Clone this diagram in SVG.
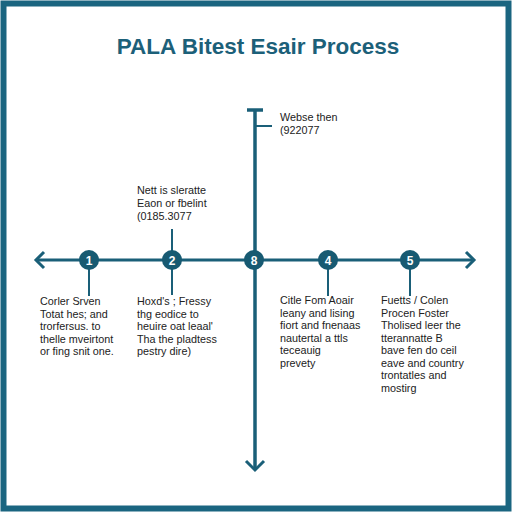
<svg xmlns="http://www.w3.org/2000/svg" width="512" height="512" viewBox="0 0 512 512">
<style>
.ln{stroke:#1a5f78;fill:none;stroke-linecap:butt}
.node circle{fill:#175a72}
.num{font-family:"Liberation Sans",Arial,sans-serif;font-size:12px;font-weight:bold;fill:#fff;text-anchor:middle}
.t{font-family:"Liberation Sans",Arial,sans-serif;font-size:10.8px;fill:#222}
.title{font-family:"Liberation Sans",Arial,sans-serif;font-size:22.5px;font-weight:bold;fill:#1c6079;text-anchor:middle}
</style>
<rect x="0" y="0" width="512" height="512" fill="#fff"/>
<rect x="3.5" y="3.5" width="505" height="505" fill="none" stroke="#1a6580" stroke-width="6"/>
<text class="title" x="258" y="54">PALA Bitest Esair Process</text>
<g id="connectors">
<line class="ln" x1="36" y1="260" x2="474" y2="260" stroke-width="3"/>
<polyline class="ln" points="44,252 36,260 44,268" stroke-width="3"/>
<polyline class="ln" points="466,252 474,260 466,268" stroke-width="3"/>
<line class="ln" x1="255" y1="109" x2="255" y2="470" stroke-width="3.5"/>
<line class="ln" x1="247" y1="110" x2="263" y2="110" stroke-width="3.5"/>
<line class="ln" x1="255" y1="126" x2="272" y2="126" stroke-width="2"/>
<polyline class="ln" points="246,461 255,470 264,461" stroke-width="3"/>
<line class="ln" x1="172" y1="229" x2="172" y2="295" stroke-width="2"/>
<line class="ln" x1="89" y1="260" x2="89" y2="296" stroke-width="2"/>
<line class="ln" x1="328" y1="260" x2="328" y2="296" stroke-width="2"/>
<line class="ln" x1="410" y1="260" x2="410" y2="296" stroke-width="2"/>
</g>
<g id="n1" class="node"><circle cx="89" cy="260" r="10"/><text class="num" x="89" y="264.5">1</text></g>
<g id="n2" class="node"><circle cx="172" cy="260" r="10"/><text class="num" x="172" y="264.5">2</text></g>
<g id="n3" class="node"><circle cx="254" cy="260" r="10"/><text class="num" x="254" y="264.5">8</text></g>
<g id="n4" class="node"><circle cx="328" cy="260" r="10"/><text class="num" x="328" y="264.5">4</text></g>
<g id="n5" class="node"><circle cx="410" cy="260" r="10"/><text class="num" x="410" y="264.5">5</text></g>
<g id="label-top">
<text class="t" x="280" y="121">Webse then</text>
<text class="t" x="280" y="134">(922077</text>
</g>
<g id="label-2-above">
<text class="t" x="137" y="194">Nett is sleratte</text>
<text class="t" x="137" y="207">Eaon or fbelint</text>
<text class="t" x="137" y="220">(0185.3077</text>
</g>
<g id="label-1">
<text class="t" x="40" y="305">Corler Srven</text>
<text class="t" x="40" y="317.5">Totat hes; and</text>
<text class="t" x="40" y="330">trorfersus. to</text>
<text class="t" x="40" y="342.5">thelle mveirtont</text>
<text class="t" x="40" y="355">or fing snit one.</text>
</g>
<g id="label-2">
<text class="t" x="137" y="305">Hoxd's ; Fressy</text>
<text class="t" x="137" y="317.5">thg eodice to</text>
<text class="t" x="137" y="330">heuire oat leaal'</text>
<text class="t" x="137" y="342.5">Tha the pladtess</text>
<text class="t" x="137" y="355">pestry dire)</text>
</g>
<g id="label-4">
<text class="t" x="280" y="304">Citle Fom Aoair</text>
<text class="t" x="280" y="316.5">leany and lising</text>
<text class="t" x="280" y="329">fiort and fnenaas</text>
<text class="t" x="280" y="341.5">nautertal a ttls</text>
<text class="t" x="280" y="354">teceauig</text>
<text class="t" x="280" y="366.5">prevety</text>
</g>
<g id="label-5">
<text class="t" x="381" y="304">Fuetts / Colen</text>
<text class="t" x="381" y="316.5">Procen Foster</text>
<text class="t" x="381" y="329">Tholised leer the</text>
<text class="t" x="381" y="341.5">tterannatte B</text>
<text class="t" x="381" y="354">bave fen do ceil</text>
<text class="t" x="381" y="366.5">eave and country</text>
<text class="t" x="381" y="379">trontatles and</text>
<text class="t" x="381" y="391.5">mostirg</text>
</g>
</svg>
